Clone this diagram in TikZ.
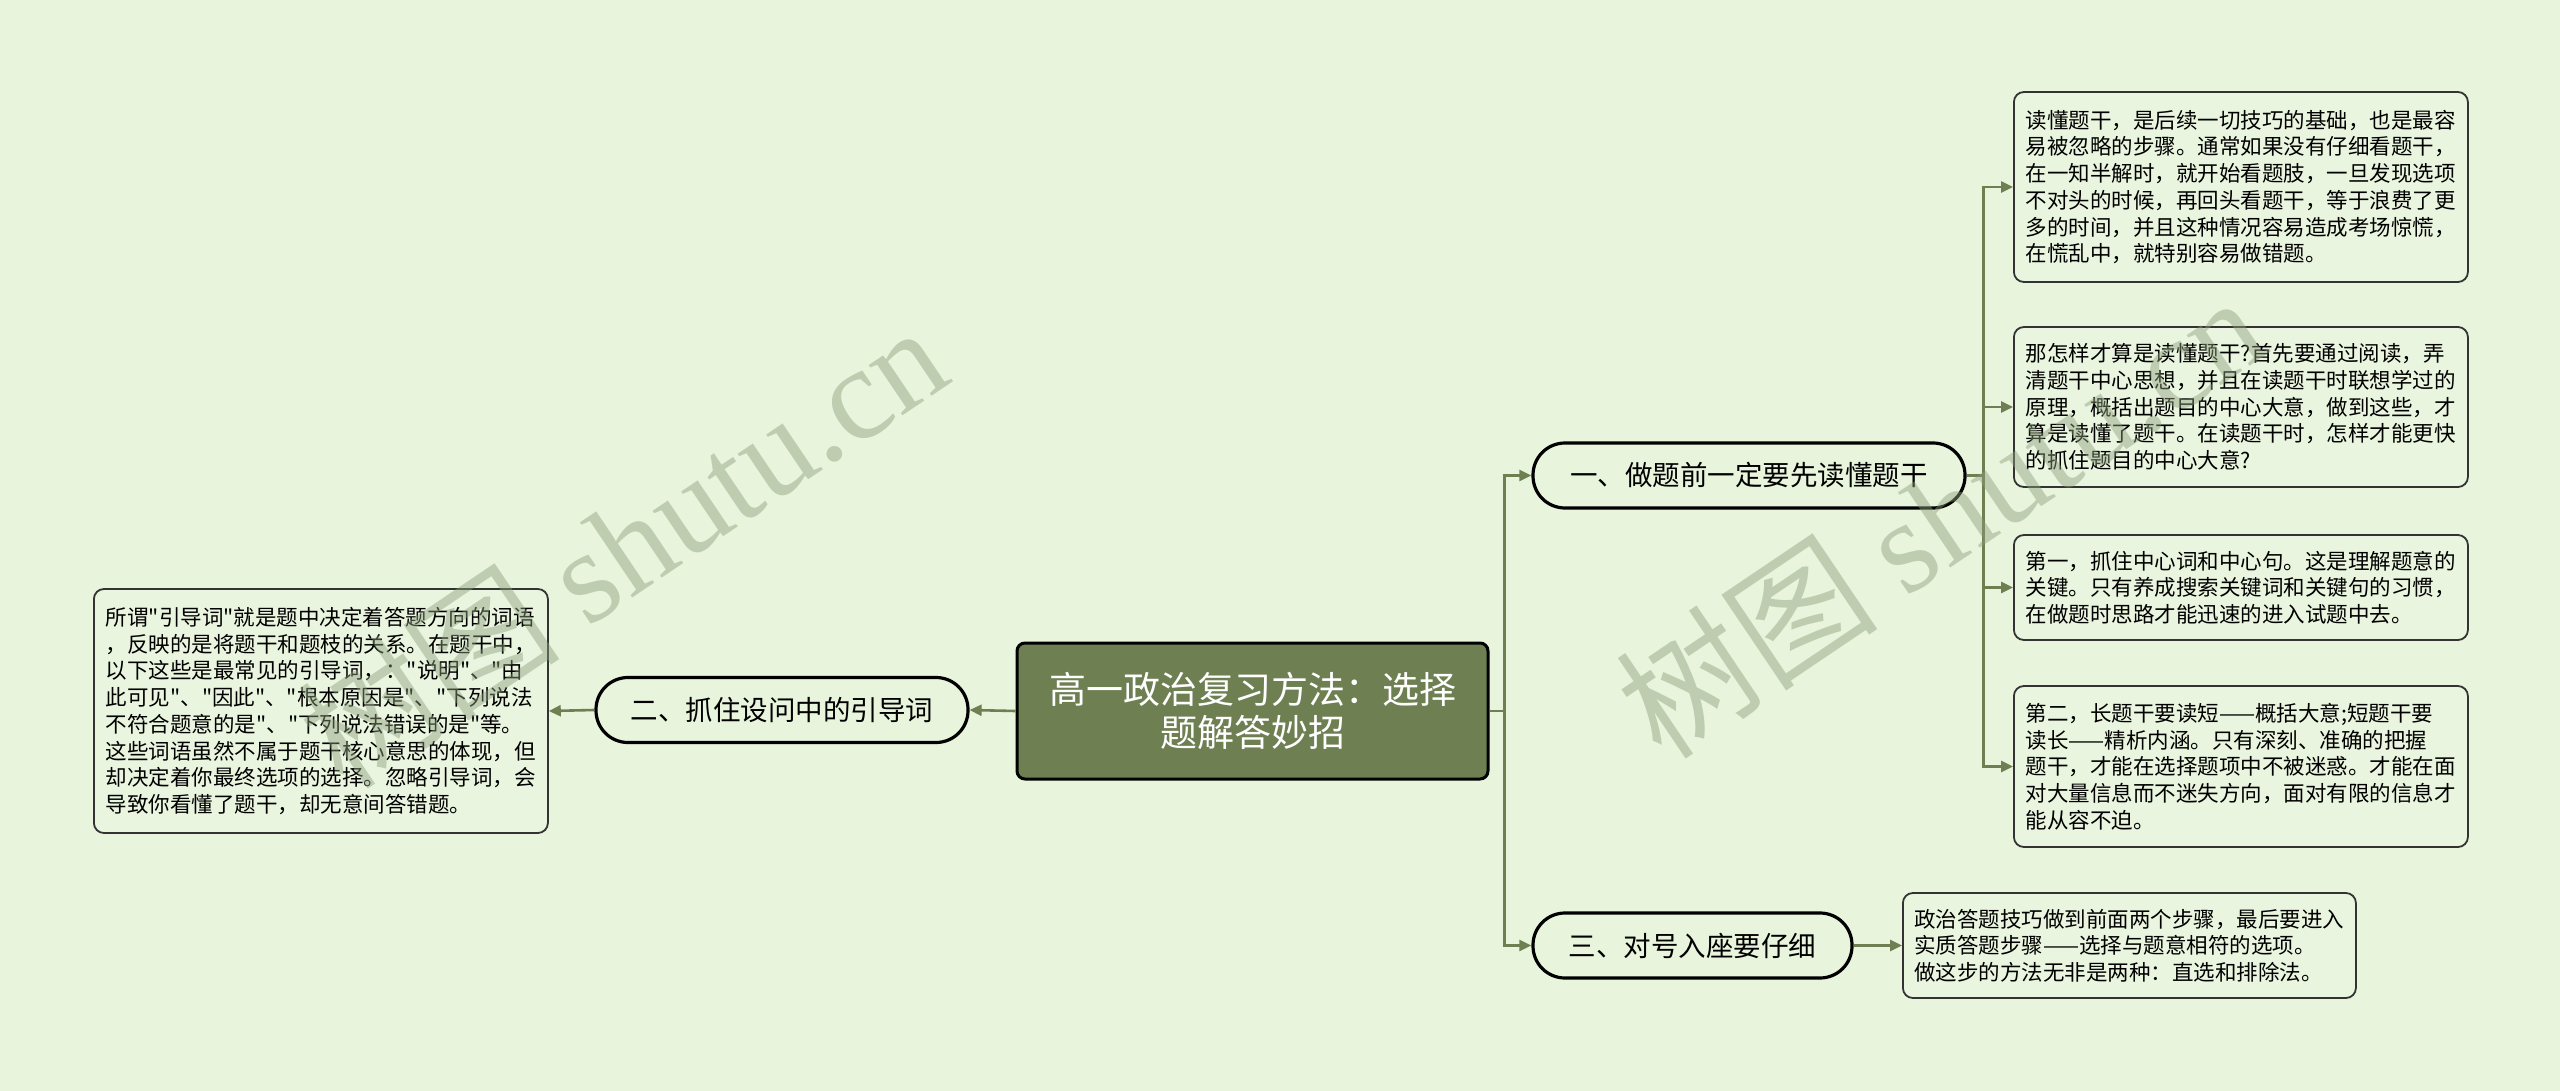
\documentclass[tikz,border=0pt]{standalone}
\usepackage{fontspec}
\setmainfont{Noto Sans CJK SC}[Ligatures=TeXOff]
\newfontfamily\wmserif{Liberation Serif}
\newfontfamily\wmcjk{Noto Sans CJK SC}
\usetikzlibrary{arrows.meta}
\definecolor{bgc}{HTML}{E8F4DC}
\definecolor{leaffill}{HTML}{EAF5DF}
\definecolor{olivec}{HTML}{6E7F52}
\definecolor{wmc}{HTML}{8C9E7C}
\tikzset{
  rootbox/.style={draw=black, line width=3pt, fill=olivec, rounded corners=8pt, text=white,
    minimum width=471pt, minimum height=136pt, align=center, inner sep=0pt,
    font=\fontsize{37}{43}\selectfont},
  branchbox/.style={draw=black, line width=3.2pt, fill=bgc, rounded corners=32pt,
    minimum height=65pt, inner sep=0pt, font=\fontsize{27.5}{33}\selectfont},
  leafbox/.style={draw=black!80, line width=1.8pt, fill=leaffill, rounded corners=10pt,
    align=left, inner xsep=11pt, inner ysep=0pt, anchor=west,
    font=\fontsize{21.5}{26.7}\selectfont},
  conn/.style={draw=olivec, line width=2.6pt, -{Triangle[length=12pt,width=11pt]}},
  wmark/.style={text=wmc, opacity=0.45, rotate=34, inner sep=0pt}
}
\begin{document}
\begin{tikzpicture}[x=1pt,y=-1pt]
\fill[bgc] (0,0) rectangle (2560,1091);
\useasboundingbox (0,0) rectangle (2560,1091);

% root
\node[rootbox] (root) at (1252.5,711) {高一政治复习方法：选择\\题解答妙招};

% branches
\node[branchbox, minimum width=432pt] (b1) at (1749,475.5) {一、做题前一定要先读懂题干};
\node[branchbox, minimum width=372pt] (b2) at (782,710) {二、抓住设问中的引导词};
\node[branchbox, minimum width=319pt] (b3) at (1692.5,945.5) {三、对号入座要仔细};

% leaves
\node[leafbox, minimum width=454pt, minimum height=190pt] (l1) at (2013,187) {读懂题干，是后续一切技巧的基础，也是最容\\易被忽略的步骤。通常如果没有仔细看题干，\\在一知半解时，就开始看题肢，一旦发现选项\\不对头的时候，再回头看题干，等于浪费了更\\多的时间，并且这种情况容易造成考场惊慌，\\在慌乱中，就特别容易做错题。};
\node[leafbox, minimum width=454pt, minimum height=160pt] (l2) at (2013,407) {那怎样才算是读懂题干?首先要通过阅读，弄\\清题干中心思想，并且在读题干时联想学过的\\原理，概括出题目的中心大意，做到这些，才\\算是读懂了题干。在读题干时，怎样才能更快\\的抓住题目的中心大意?};
\node[leafbox, minimum width=454pt, minimum height=105pt] (l3) at (2013,587.5) {第一，抓住中心词和中心句。这是理解题意的\\关键。只有养成搜索关键词和关键句的习惯，\\在做题时思路才能迅速的进入试题中去。};
\node[leafbox, minimum width=454pt, minimum height=161pt] (l4) at (2013,766.5) {第二，长题干要读短——概括大意;短题干要\\读长——精析内涵。只有深刻、准确的把握\\题干，才能在选择题项中不被迷惑。才能在面\\对大量信息而不迷失方向，面对有限的信息才\\能从容不迫。};
\node[leafbox, minimum width=453pt, minimum height=105pt] (l5) at (1902,945.5) {政治答题技巧做到前面两个步骤，最后要进入\\实质答题步骤——选择与题意相符的选项。\\做这步的方法无非是两种：直选和排除法。};
\node[leafbox, minimum width=454pt, minimum height=244pt] (l6) at (93,711) {所谓"引导词"就是题中决定着答题方向的词语\\，反映的是将题干和题枝的关系。在题干中，\\以下这些是最常见的引导词，："说明"、"由\\此可见"、"因此"、"根本原因是"、"下列说法\\不符合题意的是"、"下列说法错误的是"等。\\这些词语虽然不属于题干核心意思的体现，但\\却决定着你最终选项的选择。忽略引导词，会\\导致你看懂了题干，却无意间答错题。};

% connectors
\draw[conn] (root.east) -- ++(15,0) |- (b1.west);
\draw[conn] (root.east) -- ++(15,0) |- (b3.west);
\draw[conn] (root.west) -- (b2.east);
\draw[conn] (b2.west) -- (l6.east);
\draw[conn] (b1.east) -- ++(17,0) |- (l1.west);
\draw[conn] (b1.east) -- ++(17,0) |- (l2.west);
\draw[conn] (b1.east) -- ++(17,0) |- (l3.west);
\draw[conn] (b1.east) -- ++(17,0) |- (l4.west);
\draw[conn] (b3.east) -- (l5.west);

% watermarks
\node[wmark] (wm1) at (622,545) {\fontsize{132}{132}\selectfont\wmcjk 树图 \wmserif shutu.cn};
\node[wmark] (wm2) at (1940,515) {\fontsize{132}{132}\selectfont\wmcjk 树图 \wmserif shutu.cn};
\end{tikzpicture}
\end{document}
